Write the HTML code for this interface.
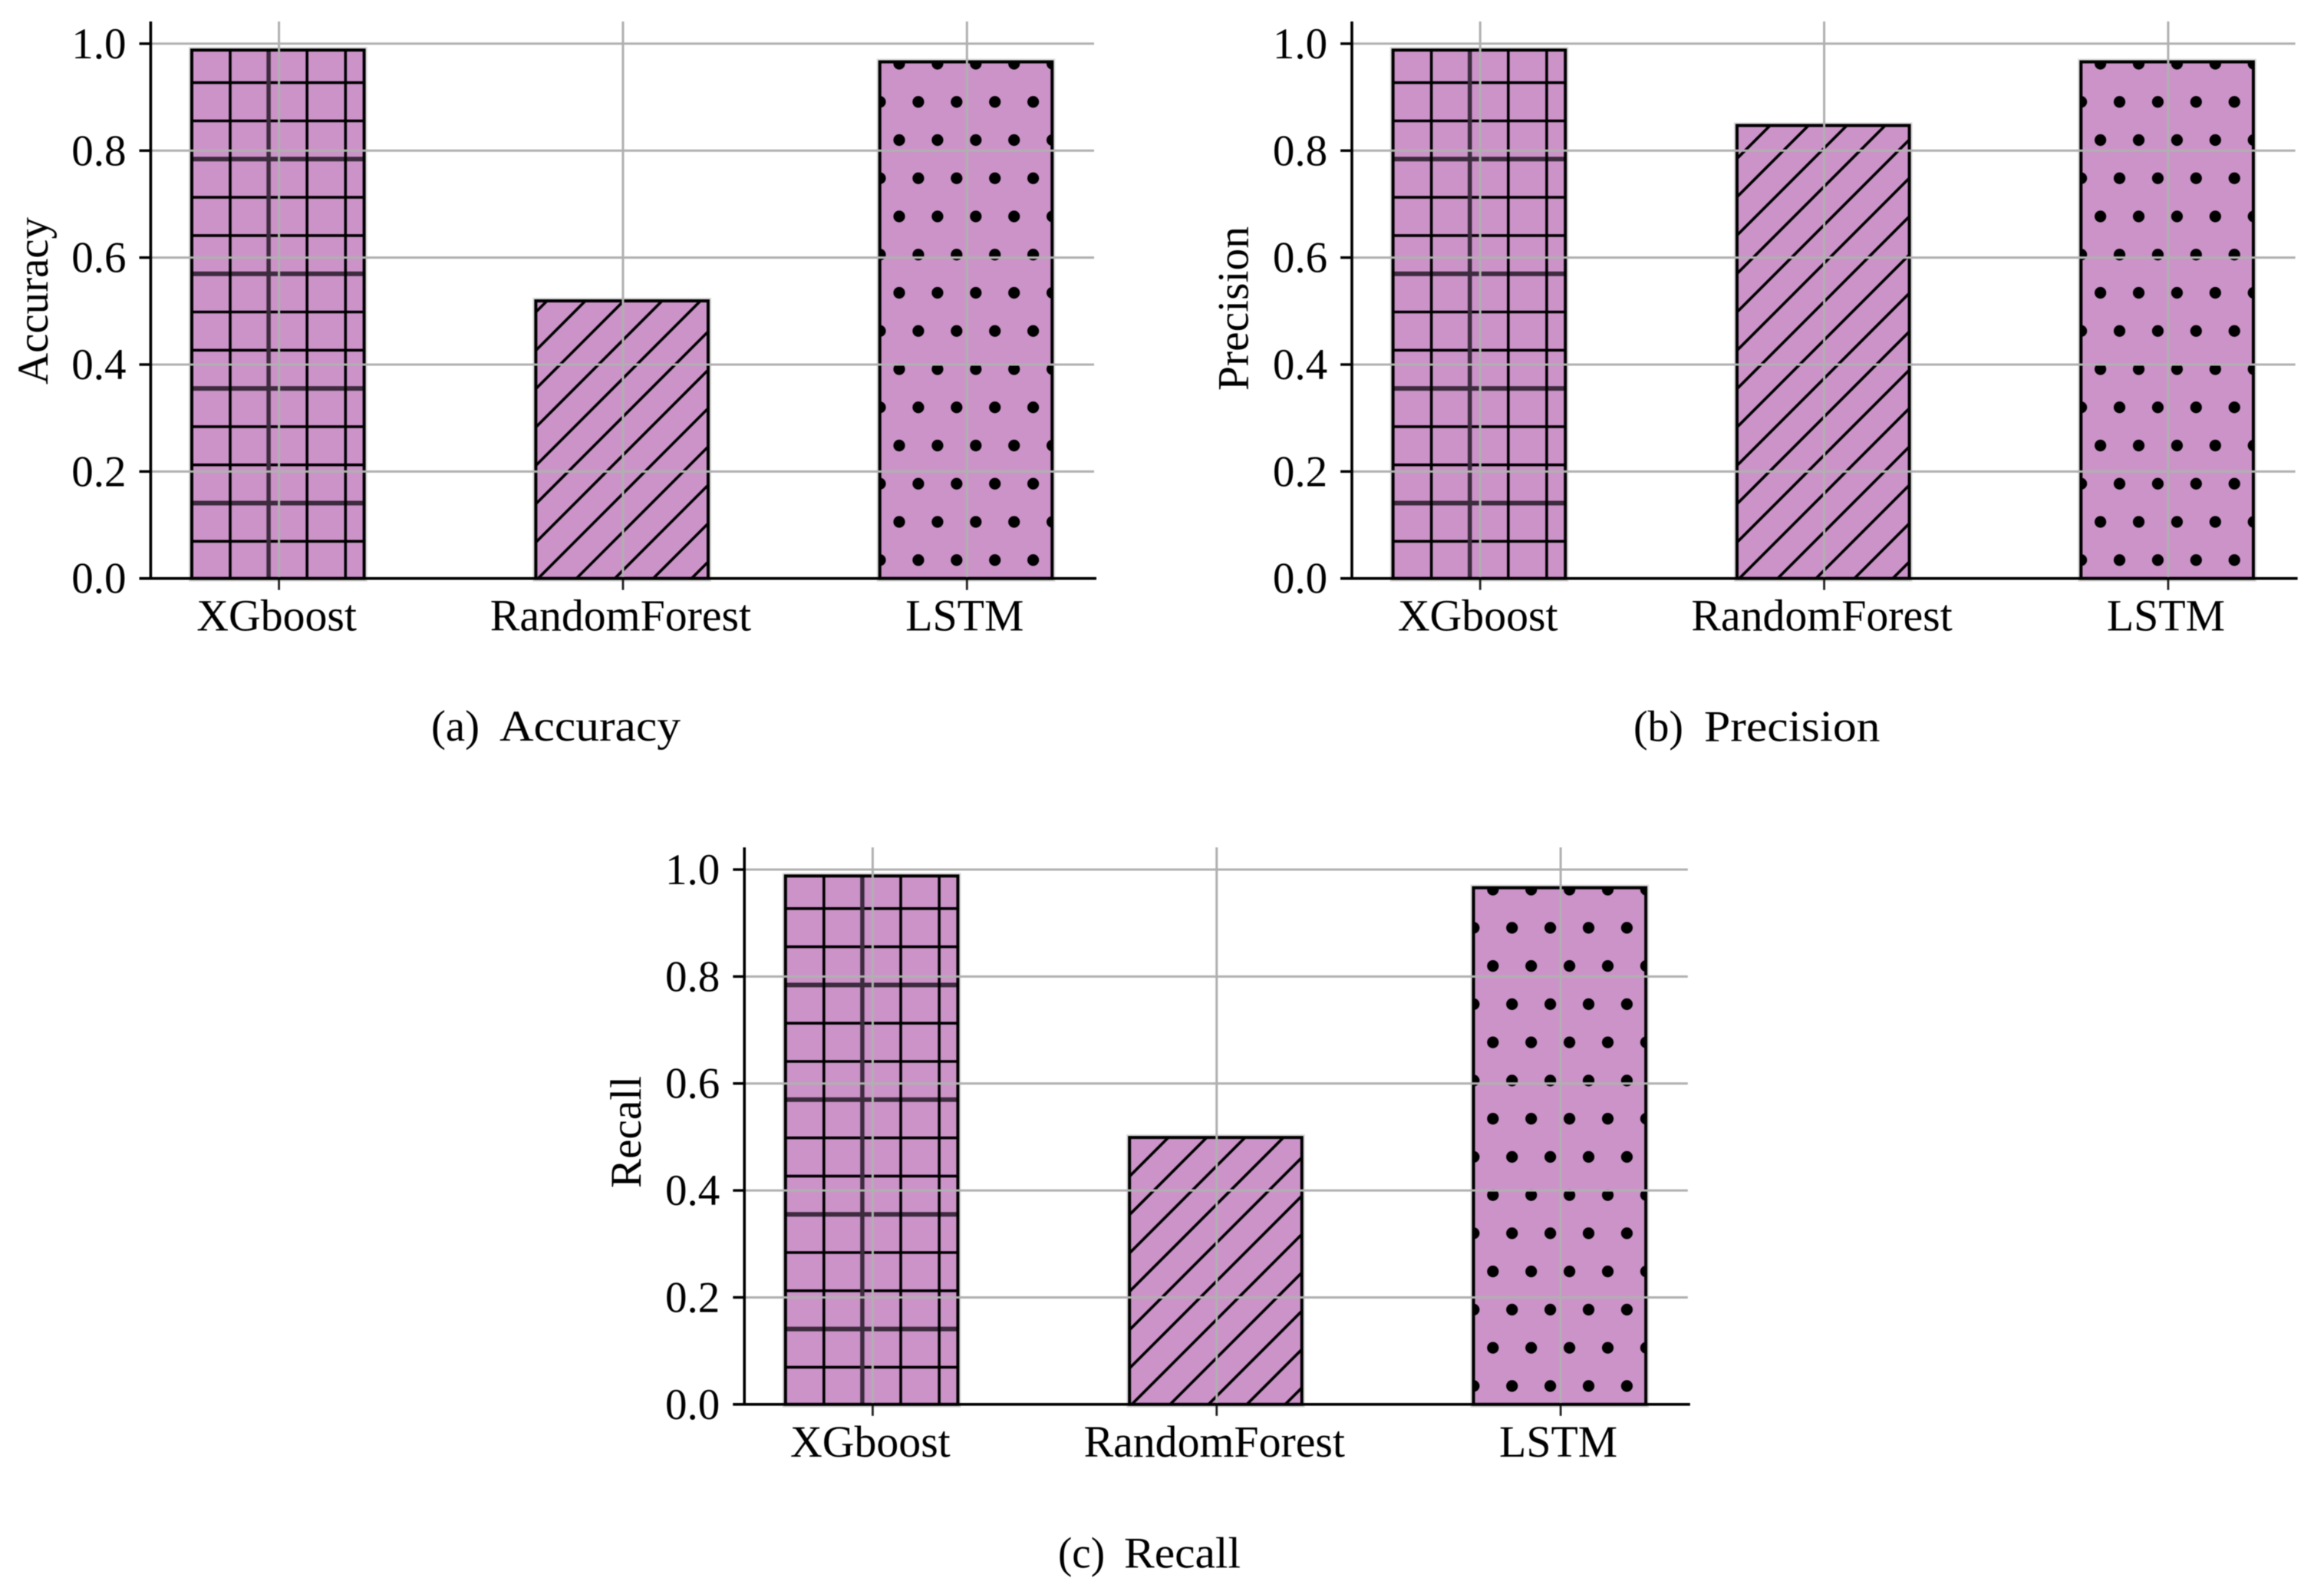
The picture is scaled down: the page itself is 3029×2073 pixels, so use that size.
<!DOCTYPE html>
<html>
<head>
<meta charset="utf-8">
<title>Model metrics</title>
<style>
html,body{margin:0;padding:0;background:#fff;}
svg{display:block;filter:blur(0.55px);}
text{font-family:"Liberation Serif",serif;fill:#000;}
</style>
</head>
<body>
<svg id="chart" xmlns="http://www.w3.org/2000/svg" width="3029" height="2073" viewBox="0 0 3029 2073">
  <rect x="0" y="0" width="3029" height="2073" fill="#ffffff"/>
  <g id="plots"></g>
  <text font-size="57" transform="translate(62 501) rotate(-90)" textLength="218" lengthAdjust="spacingAndGlyphs">Accuracy</text>
  <text font-size="57" transform="translate(1626.5 509) rotate(-90)" textLength="214" lengthAdjust="spacingAndGlyphs">Precision</text>
  <text font-size="57" transform="translate(835 1548) rotate(-90)" textLength="146" lengthAdjust="spacingAndGlyphs">Recall</text>
  <text font-size="57" x="562" y="965" textLength="63" lengthAdjust="spacingAndGlyphs">(a)</text>
  <text font-size="57" x="651" y="965" textLength="236" lengthAdjust="spacingAndGlyphs">Accuracy</text>
  <text font-size="57" x="2129" y="965.7" textLength="65" lengthAdjust="spacingAndGlyphs">(b)</text>
  <text font-size="57" x="2221" y="965.7" textLength="229.5" lengthAdjust="spacingAndGlyphs">Precision</text>
  <text font-size="57" x="1379" y="2042.3" textLength="61" lengthAdjust="spacingAndGlyphs">(c)</text>
  <text font-size="57" x="1465" y="2042.3" textLength="152" lengthAdjust="spacingAndGlyphs">Recall</text>
</svg>
<script>
const categories = ['XGboost', 'RandomForest', 'LSTM'];
const accuracyValues = [0.988, 0.519, 0.966];
const precisionValues = [0.988, 0.847, 0.966];
const recallValues = [0.988, 0.499, 0.966];
const yTickValues = [0.0, 0.2, 0.4, 0.6, 0.8, 1.0];
const yTickLabels = ['0.0', '0.2', '0.4', '0.6', '0.8', '1.0'];

const NS = 'http://www.w3.org/2000/svg';
const plots = document.getElementById('plots');
const BAR_FILL = '#cc93c9';
const GRID = '#b0b0b0';
const BASE_Y = 753.7;
const PLOT_H = 696.8;
const FIRST_X = 363.6;
const STEP_X = 448.35;
const BAR_SHIFT = -1.3;
const HALF_BAR = 112.3;
const HATCH = 49.8;

function mk(parent, tag, attrs) {
  const el = document.createElementNS(NS, tag);
  for (const k in attrs) el.setAttribute(k, attrs[k]);
  parent.appendChild(el);
  return el;
}
function yScale(v) { return BASE_Y - PLOT_H * v; }
function xScale(i) { return FIRST_X + STEP_X * i; }

function gridHatch(g, x0, x1, y0) {
  for (let k = -1; k < 30; k++) {
    const y = 107.7 + HATCH * k;
    if (y < y0 - 4 || y > BASE_Y + 4) continue;
    const thick = ((k % 3) + 3) % 3 === 2;
    const el = mk(g, 'line', {x1: x0, x2: x1, y1: y, y2: y, stroke: thick ? '#3d2b3e' : '#000', 'stroke-width': thick ? 6 : 3.6});
    
    
  }
  for (let x = 300; x < x1 + 4; x += 50.1) {
    const thick = Math.abs(x - 350.1) < 1;
    const el = mk(g, 'line', {x1: x, x2: x, y1: y0, y2: BASE_Y, stroke: thick ? '#3d2b3e' : '#000', 'stroke-width': thick ? 5.5 : 3.6});
    
    
  }
}
function slashHatch(g, x0, x1, y0) {
  for (let s = 855; s < 1800; s += 50) {
    const el = mk(g, 'line', {x1: s - BASE_Y - 4, y1: BASE_Y + 4, x2: s - y0 + 4, y2: y0 - 4, stroke: '#000', 'stroke-width': 3.6});
    
    
  }
}
function dotHatch(g, x0, x1, y0) {
  for (let r = -1; r < 16; r++) {
    const y = 83 + 49.75 * r;
    if (y < y0 - 8 || y > BASE_Y + 8) continue;
    const start = ((r % 2) + 2) % 2 === 0 ? 1172 : 1147;
    for (let x = start; x < x1 + 8; x += 49.9) {
      const el = mk(g, 'circle', {cx: x, cy: y, r: 7.6, fill: '#000'});
      
      
    }
  }
}
const hatchers = [gridHatch, slashHatch, dotHatch];

function drawPanel(key, values, dx, dy) {
  const p = mk(plots, 'g', {transform: 'translate(' + dx + ' ' + dy + ')'});
  
  

  values.forEach(function (v, i) {
    const cx = xScale(i) + BAR_SHIFT;
    const x0 = cx - HALF_BAR;
    const x1 = cx + HALF_BAR;
    const top = yScale(v);
    const name = key + '-bar-' + categories[i].toLowerCase();

    const halo = mk(p, 'rect', {x: x0, y: top, width: x1 - x0, height: BASE_Y - top, fill: 'none', stroke: '#d8d8d8', 'stroke-width': 8});
    
    

    const bar = mk(p, 'rect', {x: x0, y: top, width: x1 - x0, height: BASE_Y - top, fill: BAR_FILL});
    
    

    const clipId = name + '-clip';
    const clip = mk(p, 'clipPath', {id: clipId});
    mk(clip, 'rect', {x: x0, y: top, width: x1 - x0, height: BASE_Y - top});

    const hg = mk(p, 'g', {'clip-path': 'url(#' + clipId + ')'});
    
    
    hatchers[i](hg, x0, x1, top);

    const edge = mk(p, 'rect', {x: x0, y: top, width: x1 - x0, height: BASE_Y - top, fill: 'none', stroke: '#000', 'stroke-width': 4});
    
    
  });

  yTickValues.forEach(function (t, i) {
    const y = yScale(t);
    if (t > 0) {
      const grid = mk(p, 'line', {x1: 196.4, x2: 1426, y1: y, y2: y, stroke: GRID, 'stroke-width': 3});
      
      
    }
    const tick = mk(p, 'line', {x1: 181.5, x2: 196.4, y1: y, y2: y, stroke: '#000', 'stroke-width': 3.4});
    
    
    const label = mk(p, 'text', {x: 164.5, y: y + 19, 'text-anchor': 'end', 'font-size': 57});
    
    
    label.textContent = yTickLabels[i];
  });

  categories.forEach(function (c, i) {
    const cx = xScale(i);
    const grid = mk(p, 'line', {x1: cx, x2: cx, y1: 28, y2: BASE_Y, stroke: GRID, 'stroke-width': 3});
    
    
    const tick = mk(p, 'line', {x1: cx, x2: cx, y1: BASE_Y, y2: BASE_Y + 15, stroke: '#222', 'stroke-width': 2.8});
    
    
    const label = mk(p, 'text', {x: cx - 3, y: 821.7, 'text-anchor': 'middle', 'font-size': 57.8});
    
    
    label.textContent = c;
  });

  const ySpine = mk(p, 'line', {x1: 196.4, x2: 196.4, y1: 28, y2: BASE_Y + 1.7, stroke: '#000', 'stroke-width': 3.6});
  
  
  const xSpine = mk(p, 'line', {x1: 181.5, x2: 1429, y1: BASE_Y, y2: BASE_Y, stroke: '#000', 'stroke-width': 3.6});
  
  
}

drawPanel('accuracy', accuracyValues, 0, 0);
drawPanel('precision', precisionValues, 1565.6, 0);
drawPanel('recall', recallValues, 773.8, 1076.1);
</script>
</body>
</html>
